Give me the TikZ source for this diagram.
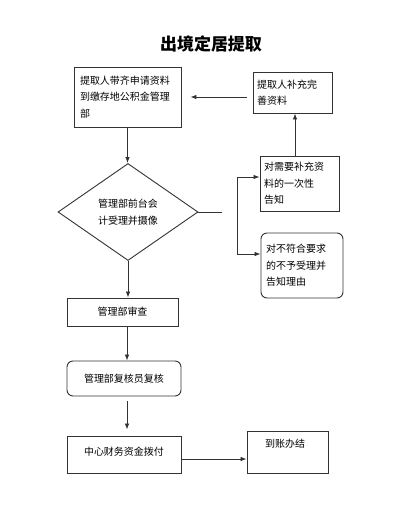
\documentclass[tikz,border=0pt]{standalone}
\usepackage{fontspec}
\newfontfamily\cjk{Noto Sans CJK SC}
\usetikzlibrary{arrows.meta,shapes.geometric}
\tikzset{
  box/.style={draw=black!80,line width=0.9pt,inner sep=0pt,align=left,font=\cjk\fontsize{10}{16.5}\selectfont},
  rbox/.style={box,rounded corners=6pt},
  flow/.style={draw=black!80,line width=0.8pt,-{Latex[length=6pt,width=4.5pt]}}
}
\begin{document}
\begin{tikzpicture}[x=1pt,y=-1pt]
  \useasboundingbox[fill=white] (0,0) rectangle (416,507);
  % title
  \node[font=\cjk\bfseries\fontsize{17}{20}\selectfont] (title) at (211,44) {出境定居提取};
  % left column
  \node[box,minimum width=107pt,minimum height=60pt,text width=95pt] (apply) at (127.5,97)
    {提取人带齐申请资料\\到缴存地公积金管理\\部};
  \node[box,shape=diamond,aspect=1.4,minimum width=140pt,minimum height=97pt,align=center] (accept) at (128,212)
    {管理部前台会\\计受理并摄像};
  \node[box,minimum width=111pt,minimum height=28pt,align=center] (review) at (122.5,312) {管理部审查};
  \node[rbox,minimum width=114pt,minimum height=35pt,align=center] (recheck) at (124,378.5) {管理部复核员复核};
  \node[box,minimum width=114pt,minimum height=37pt,align=center,text depth=7pt] (pay) at (124,454.5) {中心财务资金拨付};
  % right column
  \node[box,minimum width=79pt,minimum height=41pt,text width=71pt] (supply) at (292.5,92.5)
    {提取人补充完\\善资料};
  \node[box,minimum width=79pt,minimum height=55pt,text width=71pt] (notify) at (299.5,183.5)
    {对需要补充资\\料的一次性\\告知};
  \node[rbox,minimum width=82pt,minimum height=65pt,text width=72pt] (reject) at (302,265.5)
    {对不符合要求\\的不予受理并\\告知理由};
  \node[box,minimum width=81pt,minimum height=42pt] (done) at (287.5,452) {};
  \node[font=\cjk\fontsize{10}{12}\selectfont,inner sep=0pt] (donetxt) at (285,444) {到账办结};
  % split after the front desk
  \coordinate (split) at (222,212);
  \coordinate (up) at (237,177);
  \coordinate (down) at (237,254);
  % connectors
  \draw[flow] (apply.south) -- (apply.south |- accept.north);
  \draw[line width=0.8pt,black!80] (accept.east) -- (split);
  \draw[line width=0.8pt,black!80] (up) -- (down);
  \draw[flow] (up) -- (up -| notify.west);
  \draw[flow] (down) -- (down -| reject.west);
  \draw[flow] ([xshift=-4.5pt]notify.north) -- ([xshift=-4.5pt]notify.north |- supply.south);
  \draw[flow,shorten <=6pt,shorten >=9pt] (supply.west |- apply.east) -- (apply.east);
  \draw[flow] (accept.south) -- (accept.south |- review.north);
  \draw[flow] ([xshift=4.5pt]review.south) -- ([xshift=4.5pt]review.south |- recheck.north);
  \draw[flow,shorten <=5pt,shorten >=6pt] ([xshift=3pt]recheck.south) -- ([xshift=3pt]recheck.south |- pay.north);
  \draw[flow] ([yshift=-4.5pt]pay.east) -- ([yshift=-4.5pt]pay.east -| done.west);
\end{tikzpicture}
\end{document}
